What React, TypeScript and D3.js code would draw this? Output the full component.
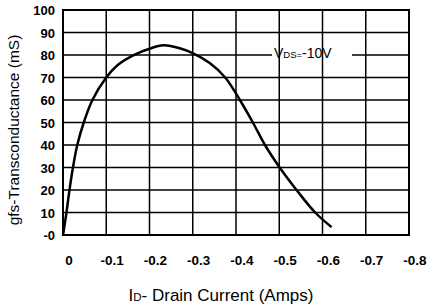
import React, { useRef, useEffect } from "react";
import * as d3 from "d3";

// Transconductance curve, VDS = -10V
const drainCurrent = [0, -0.008, -0.015, -0.023, -0.033, -0.048, -0.068, -0.1, -0.128, -0.166, -0.2, -0.232, -0.27, -0.301, -0.34, -0.375, -0.409, -0.439, -0.467, -0.501, -0.54, -0.583, -0.621];
const transconductance = [0, 10, 20, 30, 40, 50, 60, 70, 75.8, 80.2, 82.8, 84.3, 83, 80.7, 76.3, 70, 60, 50, 40, 30, 20, 10, 3.5];

const xTicks = [0, -0.1, -0.2, -0.3, -0.4, -0.5, -0.6, -0.7, -0.8];
const yTicks = [0, 10, 20, 30, 40, 50, 60, 70, 80, 90, 100];

const App = () => {
  const chartRef = useRef<SVGSVGElement | null>(null);

  useEffect(() => {
    const width = 434;
    const height = 307;
    const margin = { top: 10, right: 25, bottom: 72, left: 63 };
    const font = "Liberation Sans, Arial, Helvetica, sans-serif";

    const svg = d3.select(chartRef.current).attr("width", width).attr("height", height);
    svg.selectAll("*").remove();

    const x = d3.scaleLinear().domain([0, -0.8]).range([margin.left, width - margin.right]);
    const y = d3.scaleLinear().domain([0, 100]).range([height - margin.bottom, margin.top]);

    // horizontal grid
    svg
      .append("g")
      .selectAll("line")
      .data(yTicks)
      .join("line")
      .attr("x1", x(0))
      .attr("x2", x(-0.8))
      .attr("y1", (d) => y(d))
      .attr("y2", (d) => y(d))
      .attr("stroke", "#000")
      .attr("stroke-width", 1.5);

    // gap in the 80 line for the annotation
    svg
      .append("rect")
      .attr("x", 272)
      .attr("y", y(80) - 3)
      .attr("width", 80)
      .attr("height", 6)
      .attr("fill", "#fff");

    // vertical grid
    svg
      .append("g")
      .selectAll("line")
      .data(xTicks)
      .join("line")
      .attr("x1", (d) => x(d))
      .attr("x2", (d) => x(d))
      .attr("y1", y(0))
      .attr("y2", y(100))
      .attr("stroke", "#000")
      .attr("stroke-width", 1.5);

    // border
    svg
      .append("rect")
      .attr("x", x(0))
      .attr("y", y(100))
      .attr("width", x(-0.8) - x(0))
      .attr("height", y(0) - y(100))
      .attr("fill", "none")
      .attr("stroke", "#000")
      .attr("stroke-width", 2);

    // y tick labels
    svg
      .append("g")
      .selectAll("text")
      .data(yTicks)
      .join("text")
      .attr("x", x(0) - 8)
      .attr("y", (d) => y(d) + 5)
      .attr("text-anchor", "end")
      .attr("font-family", font)
      .attr("font-size", 13)
      .attr("font-weight", "bold")
      .text((d) => (d === 0 ? "-0" : d));

    // x tick labels
    svg
      .append("g")
      .selectAll("text")
      .data(xTicks)
      .join("text")
      .attr("x", (d) => x(d) + 6)
      .attr("y", 265)
      .attr("text-anchor", "middle")
      .attr("font-family", font)
      .attr("font-size", 13.5)
      .attr("font-weight", "bold")
      .text((d) => (d === 0 ? "0" : "-" + Math.abs(d).toFixed(1)));

    // curve
    const line = d3
      .line<number>()
      .x((d, i) => x(drainCurrent[i]))
      .y((d) => y(d))
      .curve(d3.curveCatmullRom.alpha(0.5));

    svg
      .append("path")
      .datum(transconductance)
      .attr("d", line)
      .attr("fill", "none")
      .attr("stroke", "#000")
      .attr("stroke-width", 2.5)
      .attr("stroke-linejoin", "round");

    // annotation
    const ann = svg
      .append("text")
      .attr("x", 274)
      .attr("y", y(80) + 3)
      .attr("font-family", font)
      .attr("font-size", 14);
    ann.append("tspan").text("V");
    ann.append("tspan").attr("font-size", 9.5).text("DS=");
    ann.append("tspan").text("-10V");

    // axis titles
    const xt = svg
      .append("text")
      .attr("x", 221)
      .attr("y", 301)
      .attr("text-anchor", "middle")
      .attr("font-family", font)
      .attr("font-size", 17);
    xt.append("tspan").text("I");
    xt.append("tspan").attr("font-size", 11.5).text("D");
    xt.append("tspan").text("- Drain Current (Amps)");

    svg
      .append("text")
      .attr("transform", `translate(19,130) rotate(-90)`)
      .attr("text-anchor", "middle")
      .attr("font-family", font)
      .attr("font-size", 15.5)
      .text("gfs-Transconductance (mS)");
  }, []);

  return (
    <div style={{ position: "fixed", left: 0, top: 0, background: "#fff" }}>
      <svg ref={chartRef} style={{ display: "block" }}></svg>
    </div>
  );
};

export default App;
